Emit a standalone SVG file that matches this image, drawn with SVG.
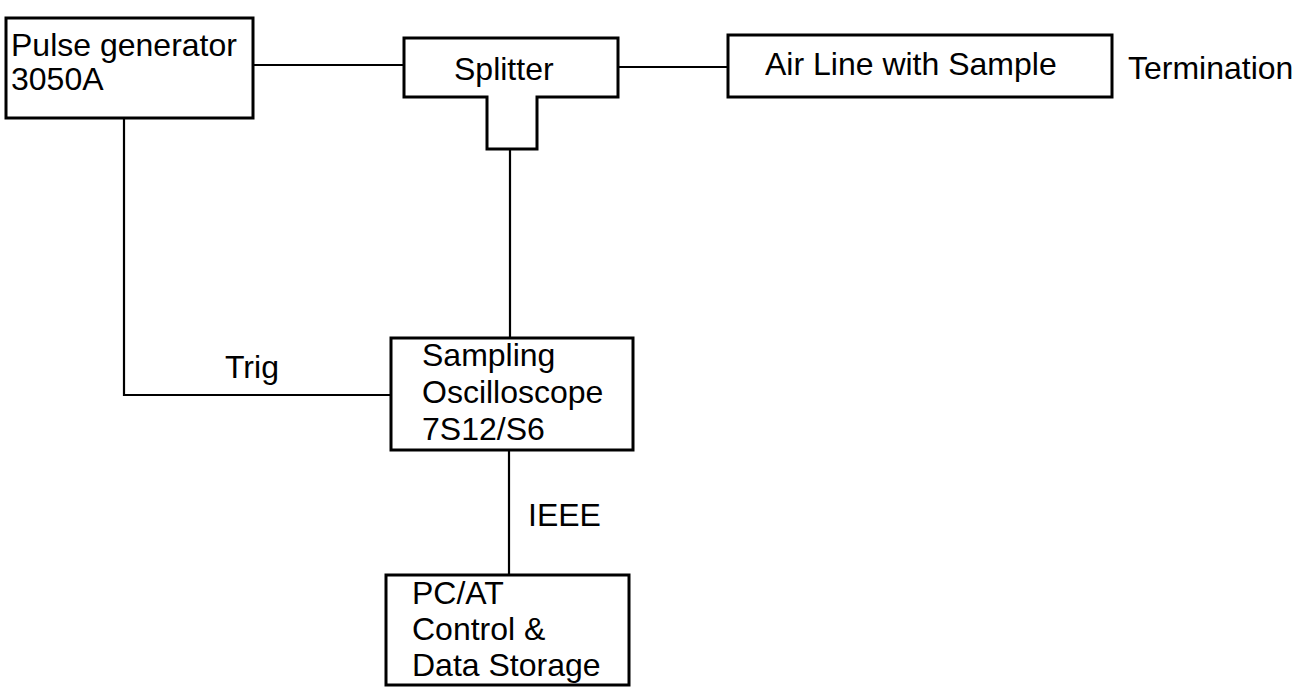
<svg xmlns="http://www.w3.org/2000/svg" width="1301" height="699" viewBox="0 0 1301 699">
  <style>
    .box { fill: #ffffff; stroke: #000000; stroke-width: 3; }
    .wire { fill: none; stroke: #000000; stroke-width: 2.2; }
    text { font-family: "Liberation Sans", Arial, sans-serif; font-size: 32px; fill: #000000; }
  </style>
  <rect x="0" y="0" width="1301" height="699" fill="#ffffff"/>

  <!-- connectors -->
  <g id="connectors">
    <line class="wire" x1="253" y1="65" x2="404" y2="65"/>
    <line class="wire" x1="618" y1="67" x2="728" y2="67"/>
    <line class="wire" x1="510" y1="149" x2="510" y2="338"/>
    <polyline class="wire" points="124,118 124,395 391,395"/>
    <line class="wire" x1="509" y1="450" x2="509" y2="575"/>
    <text x="225" y="378">Trig</text>
    <text x="528" y="526">IEEE</text>
  </g>

  <g id="pulse-generator">
    <rect class="box" x="6" y="18" width="247" height="100"/>
    <text x="11" y="56">Pulse generator</text>
    <text x="11" y="90">3050A</text>
  </g>

  <g id="splitter">
    <path class="box" d="M404,38 H618 V97 H537 V149 H487 V97 H404 Z"/>
    <text x="454" y="80">Splitter</text>
  </g>

  <g id="air-line">
    <rect class="box" x="728" y="35" width="384" height="62"/>
    <text x="765" y="75">Air Line with Sample</text>
  </g>

  <g id="termination">
    <text x="1128" y="79">Termination</text>
  </g>

  <g id="oscilloscope">
    <rect class="box" x="391" y="338" width="242" height="112"/>
    <text x="422" y="366">Sampling</text>
    <text x="422" y="403">Oscilloscope</text>
    <text x="422" y="440">7S12/S6</text>
  </g>

  <g id="pc-at">
    <rect class="box" x="386" y="575" width="243" height="110"/>
    <text x="412" y="604">PC/AT</text>
    <text x="412" y="640">Control &amp;</text>
    <text x="412" y="676">Data Storage</text>
  </g>
</svg>
